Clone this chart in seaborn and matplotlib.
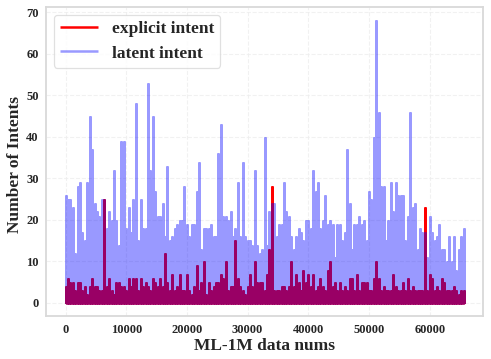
import numpy as np
import pandas as pd
import matplotlib
matplotlib.use("Agg")
import matplotlib.pyplot as plt
import seaborn as sns

# Values: per-column maximum, one value every `sample_step` data points
sample_step = 400
latent_values = [
    26,25,25,23,12,28,29,17,15,29,45,37,24,22,21,25,25,18,22,20,32,20,14,39,39,18,23,17,25,48,
    15,25,18,18,53,32,45,27,21,21,24,16,33,15,16,18,19,20,20,28,19,16,19,19,27,34,13,18,18,18,
    19,16,16,36,43,21,21,20,22,16,18,29,16,34,16,15,15,14,32,14,12,13,40,
    14,22,24,24,16,19,19,29,22,21,16,13,16,18,17,15,20,20,18,32,27,29,18,20,26,19,20,19,11,19,
    19,15,17,37,24,13,19,19,21,19,20,15,27,25,40,68,46,28,28,15,20,29,22,29,26,26,26,15,21,46,
    23,24,13,18,17,17,11,21,17,15,16,19,13,13,10,16,10,16,8,13,16,18,
]
explicit_values = [
    4,6,5,5,3,5,5,3,4,2,4,6,4,4,3,3,25,4,6,3,2,5,5,4,4,3,6,4,6,6,
    3,6,4,5,4,3,6,5,4,6,4,12,5,3,7,3,4,7,3,3,7,3,2,4,9,3,5,10,2,5,
    3,4,5,5,7,6,10,3,4,4,15,6,4,3,2,4,7,4,10,5,5,5,3,
    7,13,28,3,3,3,4,4,3,4,10,4,7,5,3,8,5,7,4,7,3,4,6,4,3,8,10,4,5,3,
    5,3,4,3,6,6,3,7,3,5,5,5,3,3,6,10,6,3,4,3,3,3,7,4,3,3,5,3,6,3,
    4,3,3,3,3,23,3,7,6,3,4,3,6,5,3,3,3,4,3,2,3,3,
]
x_ticks = [0, 10000, 20000, 30000, 40000, 50000, 60000]
y_ticks = [0, 10, 20, 30, 40, 50, 60, 70]
SERIF = ["Liberation Serif", "DejaVu Serif"]


def spikes(values):
    """Long table tracing each sample from the baseline up to its value and back."""
    rows = []
    for i, v in enumerate(values):
        x = i * sample_step
        rows += [(x, 0), (x, v), (x, 0)]
    return pd.DataFrame(rows, columns=["x", "y"])


sns.set_theme(style="whitegrid")
plt.rcParams["font.family"] = SERIF
plt.rcParams["font.weight"] = "bold"

fig = plt.figure(figsize=(4.91, 3.59), dpi=100)
ax = fig.add_axes([45.7 / 491, 1 - 316 / 359, (482.7 - 45.7) / 491, (316 - 6.7) / 359])

line_kw = dict(estimator=None, sort=False, errorbar=None, linewidth=1.8,
               solid_joinstyle="bevel", solid_capstyle="butt", ax=ax)
sns.lineplot(data=spikes(explicit_values), x="x", y="y", color="red", label="explicit intent", **line_kw)
sns.lineplot(data=spikes(latent_values), x="x", y="y", color="blue", alpha=0.4, label="latent intent", **line_kw)

ax.set_xlim(-3262, 68730)
ax.set_ylim(-3.2, 71.3)
ax.set_xticks(x_ticks)
ax.set_yticks(y_ticks)
ax.grid(True, linestyle="--", linewidth=0.8, color="#eeeeee", alpha=0.8)
ax.set_axisbelow(True)
for s in ax.spines.values():
    s.set_color("#d9d9d9")
    s.set_linewidth(1.3)
ax.tick_params(axis="x", labelsize=9, colors="#262626", length=0, pad=6)
ax.tick_params(axis="y", labelsize=9, colors="#262626", length=0, pad=5)
for t in ax.get_xticklabels() + ax.get_yticklabels():
    t.set_fontweight("bold")

ax.set_xlabel("ML-1M data nums", fontsize=12.5, fontweight="bold", color="#262626", labelpad=1)
ax.set_ylabel("Number of Intents", fontsize=12.5, fontweight="bold", color="#262626", labelpad=2, y=0.49)

leg = ax.legend(loc="upper left", frameon=True, borderaxespad=0.45, borderpad=0.35,
                prop={"family": SERIF, "weight": "bold", "size": 12.5}, handlelength=2.2,
                handletextpad=0.8, labelspacing=0.5)
leg.get_frame().set_edgecolor("#d9d9d9")
leg.get_frame().set_linewidth(0.9)
for txt in leg.get_texts():
    txt.set_color("#262626")

fig.savefig("out.png", dpi=100)
